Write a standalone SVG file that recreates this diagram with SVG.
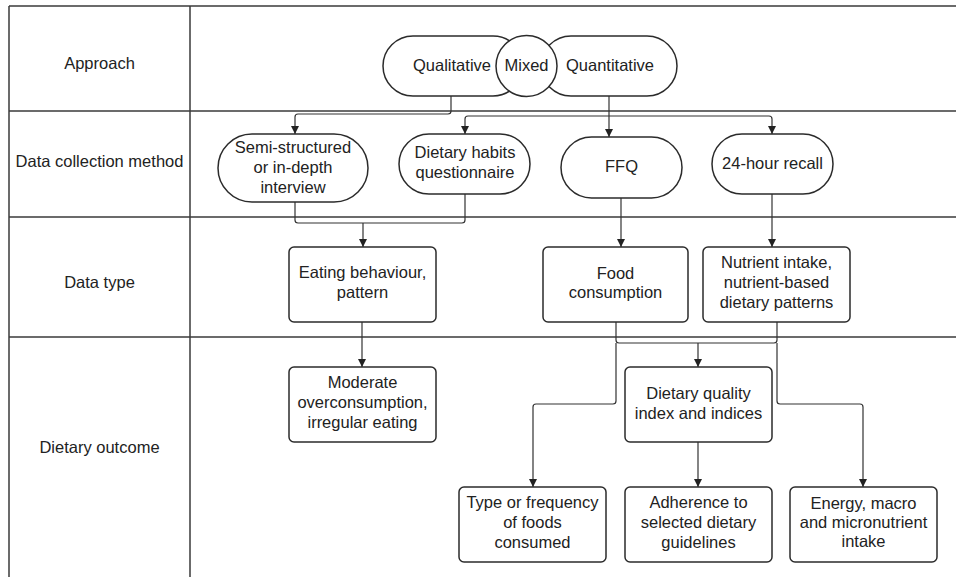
<svg xmlns="http://www.w3.org/2000/svg" width="956" height="577" viewBox="0 0 956 577">
<style>
  .grid { stroke: #3a3a3a; stroke-width: 1.5; fill: none; }
  .node { fill: #ffffff; stroke: #2b2b2b; stroke-width: 1.5; }
  .conn { fill: none; stroke: #333333; stroke-width: 1.2; }
  text { font-family: "Liberation Sans", Arial, sans-serif; font-size: 16.5px; fill: #222222; text-anchor: middle; }
</style>
<defs>
  <marker id="arr" viewBox="0 0 10 10" refX="10" refY="5" markerWidth="8" markerHeight="10" markerUnits="userSpaceOnUse" orient="auto">
    <path d="M0,0 L10,5 L0,10 Z" fill="#222222"/>
  </marker>
</defs>
<rect width="956" height="577" fill="#ffffff"/>

<g id="table">
  <line class="grid" x1="9" y1="6" x2="9" y2="577"/>
  <line class="grid" x1="190" y1="6" x2="190" y2="577"/>
  <line class="grid" x1="9" y1="6" x2="956" y2="6"/>
  <line class="grid" x1="9" y1="111" x2="956" y2="111"/>
  <line class="grid" x1="9" y1="217" x2="956" y2="217"/>
  <line class="grid" x1="9" y1="337" x2="956" y2="337"/>
  <text x="99.5" y="69">Approach</text>
  <text x="99.5" y="167">Data collection method</text>
  <text x="99.5" y="288">Data type</text>
  <text x="99.5" y="453">Dietary outcome</text>
</g>

<g id="connectors">
  <path class="conn" d="M451,96 V111 Q451,114 448,114 H298 Q295,114 295,117 V134" marker-end="url(#arr)"/>
  <path class="conn" d="M609,96 V137" marker-end="url(#arr)"/>
  <path class="conn" d="M609,116 H468 Q465,116 465,119 V134" marker-end="url(#arr)"/>
  <path class="conn" d="M609,116 H769 Q772,116 772,119 V134" marker-end="url(#arr)"/>
  <path class="conn" d="M295,202 V220 Q295,223 298,223 H462 Q465,223 465,220 V194"/>
  <path class="conn" d="M363,223 V247" marker-end="url(#arr)"/>
  <path class="conn" d="M621,198 V247" marker-end="url(#arr)"/>
  <path class="conn" d="M772,194 V247" marker-end="url(#arr)"/>
  <path class="conn" d="M362,322 V367" marker-end="url(#arr)"/>
  <path class="conn" d="M616,322 V340 Q616,343 619,343 H774 Q777,343 777,340 V322"/>
  <path class="conn" d="M698,343 V367" marker-end="url(#arr)"/>
  <path class="conn" d="M616,343 V401 Q616,404 613,404 H536 Q533,404 533,407 V487" marker-end="url(#arr)"/>
  <path class="conn" d="M777,343 V401 Q777,404 780,404 H860 Q863,404 863,407 V487" marker-end="url(#arr)"/>
  <path class="conn" d="M698,442 V487" marker-end="url(#arr)"/>
</g>

<g id="qualitative">
  <rect class="node" x="383" y="36" width="140" height="60" rx="30" ry="30"/>
  <text x="452" y="71">Qualitative</text>
</g>
<g id="quantitative">
  <rect class="node" x="541" y="36" width="136" height="60" rx="30" ry="30"/>
  <text x="610" y="71">Quantitative</text>
</g>
<g id="mixed">
  <circle class="node" cx="526.5" cy="66" r="30.5"/>
  <text x="526.5" y="71">Mixed</text>
</g>

<g id="semi-structured">
  <rect class="node" x="218" y="134" width="150" height="68" rx="34" ry="34"/>
  <text x="293" y="153">Semi-structured</text>
  <text x="293" y="173">or in-depth</text>
  <text x="293" y="193">interview</text>
</g>
<g id="dietary-habits">
  <rect class="node" x="399" y="134" width="131" height="60" rx="30" ry="30"/>
  <text x="465" y="158">Dietary habits</text>
  <text x="465" y="178">questionnaire</text>
</g>
<g id="ffq">
  <rect class="node" x="561" y="137" width="121" height="61" rx="30.5" ry="30.5"/>
  <text x="621.5" y="172">FFQ</text>
</g>
<g id="recall">
  <rect class="node" x="712" y="134" width="121" height="60" rx="30" ry="30"/>
  <text x="772.5" y="169">24-hour recall</text>
</g>

<g id="eating-behaviour">
  <rect class="node" x="289" y="247" width="147" height="75" rx="5" ry="5"/>
  <text x="362.5" y="278">Eating behaviour,</text>
  <text x="362.5" y="298">pattern</text>
</g>
<g id="food-consumption">
  <rect class="node" x="543" y="247" width="145" height="75" rx="5" ry="5"/>
  <text x="615.5" y="279">Food</text>
  <text x="615.5" y="298">consumption</text>
</g>
<g id="nutrient-intake">
  <rect class="node" x="703" y="247" width="147" height="75" rx="5" ry="5"/>
  <text x="776.5" y="268">Nutrient intake,</text>
  <text x="776.5" y="288">nutrient-based</text>
  <text x="776.5" y="308">dietary patterns</text>
</g>

<g id="moderate">
  <rect class="node" x="289" y="367" width="147" height="75" rx="5" ry="5"/>
  <text x="362.5" y="388">Moderate</text>
  <text x="362.5" y="408">overconsumption,</text>
  <text x="362.5" y="428">irregular eating</text>
</g>
<g id="dietary-quality">
  <rect class="node" x="625" y="367" width="147" height="75" rx="5" ry="5"/>
  <text x="698.5" y="399">Dietary quality</text>
  <text x="698.5" y="419">index and indices</text>
</g>
<g id="type-frequency">
  <rect class="node" x="459" y="487" width="147" height="75" rx="5" ry="5"/>
  <text x="532.5" y="508">Type or frequency</text>
  <text x="532.5" y="528">of foods</text>
  <text x="532.5" y="548">consumed</text>
</g>
<g id="adherence">
  <rect class="node" x="625" y="487" width="147" height="75" rx="5" ry="5"/>
  <text x="698.5" y="508">Adherence to</text>
  <text x="698.5" y="528">selected dietary</text>
  <text x="698.5" y="548">guidelines</text>
</g>
<g id="energy">
  <rect class="node" x="790" y="487" width="147" height="75" rx="5" ry="5"/>
  <text x="863.5" y="509">Energy, macro</text>
  <text x="863.5" y="528">and micronutrient</text>
  <text x="863.5" y="547">intake</text>
</g>
</svg>
